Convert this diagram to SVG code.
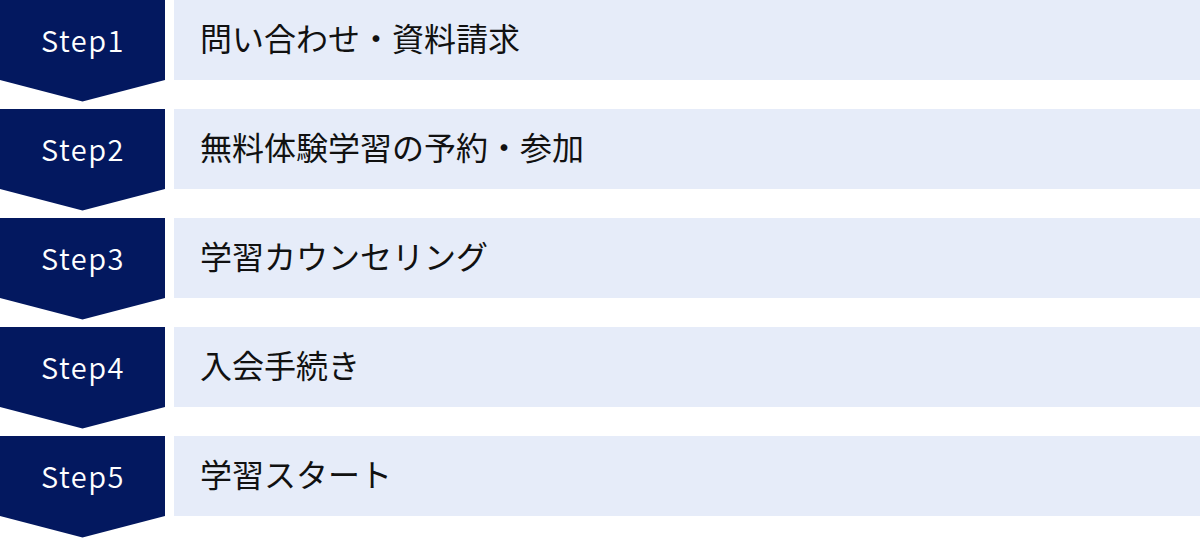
<svg xmlns="http://www.w3.org/2000/svg" width="1200" height="538" viewBox="0 0 1200 538">
<style>
.chev{fill:#03185f}
.box{fill:#e6ecf9}
.step{font-family:"Noto Sans CJK JP","Noto Sans",sans-serif;font-size:29px;font-weight:350;fill:#ffffff;text-anchor:middle;letter-spacing:1.5px}
.label{font-family:"Noto Sans CJK JP",sans-serif;font-size:32px;font-weight:400;fill:#111111}
</style>
<defs>
<path id="chevShape" d="M0 0H165V80L82.5 101.5L0 80Z"/>
</defs>
<g id="step1" transform="translate(0,0)">
<use href="#chevShape" class="chev"/>
<rect class="box" x="174" y="0" width="1026" height="80"/>
<text class="step" x="83" y="51.5">Step1</text>
<text class="label" x="200" y="51">問い合わせ・資料請求</text>
</g>
<g id="step2" transform="translate(0,109)">
<use href="#chevShape" class="chev"/>
<rect class="box" x="174" y="0" width="1026" height="80"/>
<text class="step" x="83" y="51.5">Step2</text>
<text class="label" x="200" y="51">無料体験学習の予約・参加</text>
</g>
<g id="step3" transform="translate(0,218)">
<use href="#chevShape" class="chev"/>
<rect class="box" x="174" y="0" width="1026" height="80"/>
<text class="step" x="83" y="51.5">Step3</text>
<text class="label" x="200" y="51">学習カウンセリング</text>
</g>
<g id="step4" transform="translate(0,327)">
<use href="#chevShape" class="chev"/>
<rect class="box" x="174" y="0" width="1026" height="80"/>
<text class="step" x="83" y="51.5">Step4</text>
<text class="label" x="200" y="51">入会手続き</text>
</g>
<g id="step5" transform="translate(0,436)">
<use href="#chevShape" class="chev"/>
<rect class="box" x="174" y="0" width="1026" height="80"/>
<text class="step" x="83" y="51.5">Step5</text>
<text class="label" x="200" y="51">学習スタート</text>
</g>
<g id="connectors"></g>
</svg>
